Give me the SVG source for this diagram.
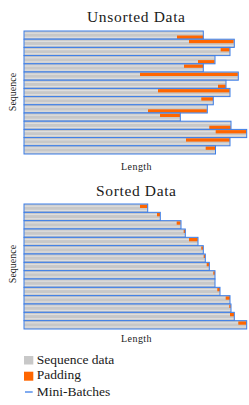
<svg xmlns="http://www.w3.org/2000/svg" width="249" height="405" viewBox="0 0 249 405">
<style>
.t{font-family:"Liberation Serif","Times New Roman",serif;fill:#1a1a1a}
.g{fill:#c8c8c8}
.l{fill:#dedede}
.o{fill:#ff6600}
.b{fill:none;stroke:#3c7ee8;stroke-width:1}
</style>
<rect width="249" height="405" fill="#ffffff"/>
<text class="t" x="136" y="21.5" font-size="15.5" text-anchor="middle" textLength="98" lengthAdjust="spacing">Unsorted Data</text>
<text class="t" x="136" y="196" font-size="15.5" text-anchor="middle" textLength="80" lengthAdjust="spacing">Sorted Data</text>
<text class="t" x="136.3" y="170" font-size="10" text-anchor="middle" textLength="30.5" lengthAdjust="spacing">Length</text>
<text class="t" x="136.3" y="342" font-size="10" text-anchor="middle" textLength="30.5" lengthAdjust="spacing">Length</text>
<text class="t" font-size="10" text-anchor="middle" transform="translate(15.5 92) rotate(-90)">Sequence</text>
<text class="t" font-size="10" text-anchor="middle" transform="translate(15.5 264) rotate(-90)">Sequence</text>

<g id="unsorted">
<!-- each box: gray, stripes, orange, outline -->
<g id="u1"><rect class="g" x="24" y="31" width="179.3" height="8.2"/><rect class="l" x="24" y="32.6" width="179.3" height="1.2"/><rect class="l" x="24" y="36.7" width="153" height="1.2"/><rect class="o" x="177" y="35.5" width="26.3" height="3.3"/><rect class="b" x="24" y="31" width="179.3" height="8.2"/></g>
<g id="u2"><rect class="g" x="24" y="39.2" width="210.3" height="8.2"/><rect class="l" x="24" y="40.8" width="165" height="1.2"/><rect class="l" x="24" y="44.9" width="210.3" height="1.2"/><rect class="o" x="189" y="39.9" width="44.6" height="3.3"/><rect class="b" x="24" y="39.2" width="210.3" height="8.2"/></g>
<g id="u3"><rect class="g" x="24" y="47.4" width="206" height="8.2"/><rect class="l" x="24" y="49" width="196.7" height="1.2"/><rect class="l" x="24" y="53.1" width="206" height="1.2"/><rect class="o" x="220.7" y="48.1" width="8.8" height="3.3"/><rect class="b" x="24" y="47.4" width="206" height="8.2"/></g>
<g id="u4"><rect class="g" x="24" y="55.6" width="191" height="8.2"/><rect class="l" x="24" y="57.2" width="191" height="1.2"/><rect class="l" x="24" y="61.3" width="174" height="1.2"/><rect class="o" x="198" y="60.1" width="16.5" height="3.3"/><rect class="b" x="24" y="55.6" width="191" height="8.2"/></g>
<g id="u5"><rect class="g" x="24" y="63.8" width="179.3" height="8.2"/><rect class="l" x="24" y="65.4" width="160" height="1.2"/><rect class="l" x="24" y="69.5" width="179.3" height="1.2"/><rect class="o" x="184" y="64.5" width="19.3" height="3.3"/><rect class="b" x="24" y="63.8" width="179.3" height="8.2"/></g>
<g id="u6"><rect class="g" x="24" y="72" width="214.3" height="8.2"/><rect class="l" x="24" y="73.6" width="116" height="1.2"/><rect class="l" x="24" y="77.7" width="214.3" height="1.2"/><rect class="o" x="140" y="72.7" width="97.8" height="3.3"/><rect class="b" x="24" y="72" width="214.3" height="8.2"/></g>
<g id="u7"><rect class="g" x="24" y="80.2" width="202" height="8.2"/><rect class="l" x="24" y="81.8" width="202" height="1.2"/><rect class="l" x="24" y="85.9" width="194" height="1.2"/><rect class="o" x="218" y="84.7" width="7.7" height="3.3"/><rect class="b" x="24" y="80.2" width="202" height="8.2"/></g>
<g id="u8"><rect class="g" x="24" y="88.4" width="206" height="8.2"/><rect class="l" x="24" y="90" width="134" height="1.2"/><rect class="l" x="24" y="94.1" width="206" height="1.2"/><rect class="o" x="158" y="89.1" width="71.6" height="3.3"/><rect class="b" x="24" y="88.4" width="206" height="8.2"/></g>
<g id="u9"><rect class="g" x="24" y="96.6" width="189.3" height="8.2"/><rect class="l" x="24" y="98.2" width="177.3" height="1.2"/><rect class="l" x="24" y="102.3" width="189.3" height="1.2"/><rect class="o" x="201.3" y="97.3" width="11.7" height="3.3"/><rect class="b" x="24" y="96.6" width="189.3" height="8.2"/></g>
<g id="u10"><rect class="g" x="24" y="104.8" width="183.3" height="8.2"/><rect class="l" x="24" y="106.4" width="183.3" height="1.2"/><rect class="l" x="24" y="110.5" width="124" height="1.2"/><rect class="o" x="148" y="109.3" width="58.8" height="3.3"/><rect class="b" x="24" y="104.8" width="183.3" height="8.2"/></g>
<g id="u11"><rect class="g" x="24" y="113" width="156.3" height="8.2"/><rect class="l" x="24" y="114.6" width="136" height="1.2"/><rect class="l" x="24" y="118.7" width="156.3" height="1.2"/><rect class="o" x="160" y="113.7" width="20" height="3.3"/><rect class="b" x="24" y="113" width="156.3" height="8.2"/></g>
<g id="u12"><rect class="g" x="24" y="121.2" width="207" height="8.2"/><rect class="l" x="24" y="122.8" width="207" height="1.2"/><rect class="l" x="24" y="126.9" width="185.3" height="1.2"/><rect class="o" x="209.3" y="125.7" width="21.4" height="3.3"/><rect class="b" x="24" y="121.2" width="207" height="8.2"/></g>
<g id="u13"><rect class="g" x="24" y="129.4" width="222.7" height="8.2"/><rect class="l" x="24" y="131" width="191.7" height="1.2"/><rect class="l" x="24" y="135.1" width="222.7" height="1.2"/><rect class="o" x="215.7" y="130.1" width="30.7" height="3.3"/><rect class="b" x="24" y="129.4" width="222.7" height="8.2"/></g>
<g id="u14"><rect class="g" x="24" y="137.6" width="206" height="8.2"/><rect class="l" x="24" y="139.2" width="162" height="1.2"/><rect class="l" x="24" y="143.3" width="206" height="1.2"/><rect class="o" x="186" y="138.3" width="43.7" height="3.3"/><rect class="b" x="24" y="137.6" width="206" height="8.2"/></g>
<g id="u15"><rect class="g" x="24" y="145.8" width="191.5" height="8.2"/><rect class="l" x="24" y="147.4" width="181.7" height="1.2"/><rect class="l" x="24" y="151.5" width="191.5" height="1.2"/><rect class="o" x="205.7" y="146.5" width="9.5" height="3.3"/><rect class="b" x="24" y="145.8" width="191.5" height="8.2"/></g>
</g>

<g id="sorted">
<g id="s1"><rect class="g" x="24" y="204" width="123.7" height="8.33"/><rect class="l" x="24" y="205.6" width="116" height="1.2"/><rect class="l" x="24" y="209.8" width="123.7" height="1.2"/><rect class="o" x="140" y="204.7" width="7.4" height="3.3"/><rect class="b" x="24" y="204" width="123.7" height="8.33"/></g>
<g id="s2"><rect class="g" x="24" y="212.33" width="136.3" height="8.33"/><rect class="l" x="24" y="213.9" width="133" height="1.2"/><rect class="l" x="24" y="218.1" width="136.3" height="1.2"/><rect class="o" x="157" y="213" width="3" height="3.3"/><rect class="b" x="24" y="212.33" width="136.3" height="8.33"/></g>
<g id="s3"><rect class="g" x="24" y="220.67" width="157" height="8.33"/><rect class="l" x="24" y="222.2" width="152.7" height="1.2"/><rect class="l" x="24" y="226.4" width="157" height="1.2"/><rect class="o" x="176.7" y="221.4" width="3.8" height="3.3"/><rect class="b" x="24" y="220.67" width="157" height="8.33"/></g>
<g id="s4"><rect class="g" x="24" y="229" width="161.3" height="8.33"/><rect class="l" x="24" y="230.6" width="159.7" height="1.2"/><rect class="l" x="24" y="234.8" width="161.3" height="1.2"/><rect class="o" x="183.7" y="229.7" width="1.6" height="3.3"/><rect class="b" x="24" y="229" width="161.3" height="8.33"/></g>
<g id="s5"><rect class="g" x="24" y="237.33" width="174" height="8.33"/><rect class="l" x="24" y="238.9" width="165" height="1.2"/><rect class="l" x="24" y="243.1" width="174" height="1.2"/><rect class="o" x="189" y="238" width="8.7" height="3.3"/><rect class="b" x="24" y="237.33" width="174" height="8.33"/></g>
<g id="s6"><rect class="g" x="24" y="245.67" width="179.3" height="8.33"/><rect class="l" x="24" y="247.2" width="177.3" height="1.2"/><rect class="l" x="24" y="251.4" width="179.3" height="1.2"/><rect class="o" x="201.3" y="246.4" width="1.8" height="3.3"/><rect class="b" x="24" y="245.67" width="179.3" height="8.33"/></g>
<g id="s7"><rect class="g" x="24" y="254" width="181.3" height="8.33"/><rect class="l" x="24" y="255.6" width="179.7" height="1.2"/><rect class="l" x="24" y="259.8" width="181.3" height="1.2"/><rect class="o" x="203.7" y="254.7" width="1.4" height="3.3"/><rect class="b" x="24" y="254" width="181.3" height="8.33"/></g>
<g id="s8"><rect class="g" x="24" y="262.33" width="185.3" height="8.33"/><rect class="l" x="24" y="263.9" width="182.7" height="1.2"/><rect class="l" x="24" y="268.1" width="185.3" height="1.2"/><rect class="o" x="206.7" y="263" width="2.6" height="3.3"/><rect class="b" x="24" y="262.33" width="185.3" height="8.33"/></g>
<g id="s9"><rect class="g" x="24" y="270.67" width="191" height="8.33"/><rect class="l" x="24" y="272.2" width="189.3" height="1.2"/><rect class="l" x="24" y="276.4" width="191" height="1.2"/><rect class="o" x="213.3" y="271.4" width="1.7" height="3.3"/><rect class="b" x="24" y="270.67" width="191" height="8.33"/></g>
<g id="s10"><rect class="g" x="24" y="279" width="191" height="8.33"/><rect class="l" x="24" y="280.6" width="191" height="1.2"/><rect class="l" x="24" y="284.8" width="191" height="1.2"/><rect class="b" x="24" y="279" width="191" height="8.33"/></g>
<g id="s11"><rect class="g" x="24" y="287.33" width="196" height="8.33"/><rect class="l" x="24" y="288.9" width="193.3" height="1.2"/><rect class="l" x="24" y="293.1" width="196" height="1.2"/><rect class="o" x="217.3" y="288" width="2.7" height="3.3"/><rect class="b" x="24" y="287.33" width="196" height="8.33"/></g>
<g id="s12"><rect class="g" x="24" y="295.67" width="206" height="8.33"/><rect class="l" x="24" y="297.2" width="201.7" height="1.2"/><rect class="l" x="24" y="301.4" width="206" height="1.2"/><rect class="o" x="225.7" y="296.4" width="4.3" height="3.3"/><rect class="b" x="24" y="295.67" width="206" height="8.33"/></g>
<g id="s13"><rect class="g" x="24" y="304" width="207" height="8.33"/><rect class="l" x="24" y="305.6" width="205.3" height="1.2"/><rect class="l" x="24" y="309.8" width="207" height="1.2"/><rect class="o" x="229.3" y="304.7" width="1.4" height="3.3"/><rect class="b" x="24" y="304" width="207" height="8.33"/></g>
<g id="s14"><rect class="g" x="24" y="312.33" width="210.3" height="8.33"/><rect class="l" x="24" y="313.9" width="206" height="1.2"/><rect class="l" x="24" y="318.1" width="210.3" height="1.2"/><rect class="o" x="230" y="313" width="4" height="3.3"/><rect class="b" x="24" y="312.33" width="210.3" height="8.33"/></g>
<g id="s15"><rect class="g" x="24" y="320.67" width="222.7" height="8.33"/><rect class="l" x="24" y="322.2" width="214.3" height="1.2"/><rect class="l" x="24" y="326.4" width="222.7" height="1.2"/><rect class="o" x="238.3" y="321.4" width="8.2" height="3.3"/><rect class="b" x="24" y="320.67" width="222.7" height="8.33"/></g>
</g>

<g id="legend">
<rect class="g" x="24" y="356" width="9.3" height="8.5"/>
<text class="t" x="36.7" y="363.5" font-size="13.5">Sequence data</text>
<rect class="o" x="24" y="371.7" width="9.3" height="9"/>
<text class="t" x="36.7" y="379.3" font-size="13.5">Padding</text>
<line x1="25" y1="392" x2="32.7" y2="392" stroke="#3c7ee8" stroke-width="1.3"/>
<text class="t" x="36.7" y="395.5" font-size="13.5">Mini-Batches</text>
</g>
</svg>
